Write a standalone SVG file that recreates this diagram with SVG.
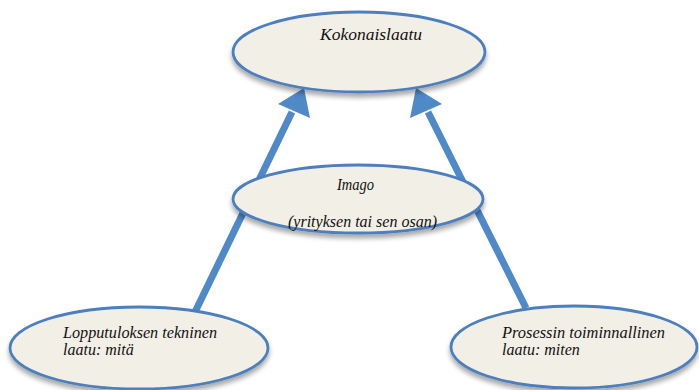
<svg xmlns="http://www.w3.org/2000/svg" width="699" height="390" viewBox="0 0 699 390">
  <style>
    .node ellipse { fill: #f2efe6; stroke: #4d7fbd; stroke-width: 2.8; filter: url(#shadow); }
    .node text { font-family: "Liberation Serif", "Times New Roman", serif; font-style: italic; font-size: 16px; fill: #111; }
    .edge { stroke: #4f89c8; stroke-width: 7; fill: none; }
    .head { fill: #4f89c8; }
  </style>
  <defs>
    <filter id="shadow" x="-10%" y="-20%" width="120%" height="150%">
      <feGaussianBlur in="SourceAlpha" stdDeviation="2.5"/>
      <feOffset dx="0" dy="4" result="b"/>
      <feComponentTransfer><feFuncA type="linear" slope="0.35"/></feComponentTransfer>
      <feMerge><feMergeNode/><feMergeNode in="SourceGraphic"/></feMerge>
    </filter>
  </defs>

  <!-- connectors -->
  <g id="connectors">
    <line class="edge" x1="195" y1="312" x2="292" y2="112"/>
    <polygon class="head" points="304,88 310,118 278,104"/>
    <line class="edge" x1="526" y1="308" x2="428" y2="112"/>
    <polygon class="head" points="416,88 442,104 410,118"/>
  </g>

  <g id="kokonaislaatu" class="node">
    <ellipse cx="359" cy="52" rx="126" ry="40"/>
    <text x="320" y="40" textLength="102" lengthAdjust="spacingAndGlyphs">Kokonaislaatu</text>
  </g>

  <g id="imago" class="node">
    <ellipse cx="358" cy="199" rx="125" ry="34"/>
    <text x="337" y="190" textLength="37" lengthAdjust="spacingAndGlyphs">Imago</text>
    <text x="288" y="227" textLength="149" lengthAdjust="spacingAndGlyphs">(yrityksen tai sen osan)</text>
  </g>

  <g id="lopputulos" class="node">
    <ellipse cx="139" cy="348" rx="129" ry="41"/>
    <text x="63" y="338" textLength="154" lengthAdjust="spacingAndGlyphs">Lopputuloksen tekninen</text>
    <text x="63" y="355">laatu: mitä</text>
  </g>

  <g id="prosessi" class="node">
    <ellipse cx="574" cy="347" rx="123" ry="41"/>
    <text x="502" y="338" textLength="163" lengthAdjust="spacingAndGlyphs">Prosessin toiminnallinen</text>
    <text x="502" y="355">laatu: miten</text>
  </g>
</svg>
